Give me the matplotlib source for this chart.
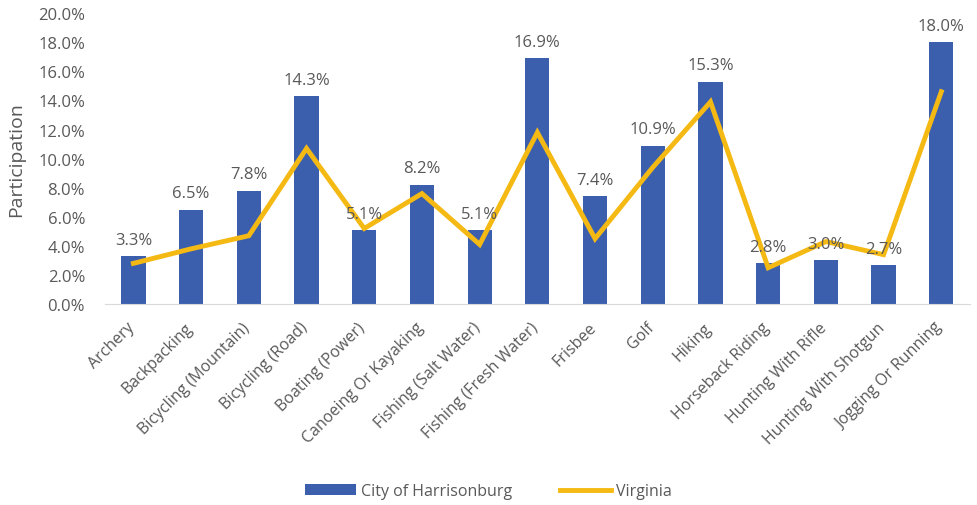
import matplotlib
matplotlib.use("Agg")
import matplotlib.pyplot as plt
import numpy as np
from matplotlib.ticker import FuncFormatter
from matplotlib.transforms import ScaledTranslation

plt.rcParams['font.family'] = ['Open Sans', 'DejaVu Sans']

categories = ["Archery", "Backpacking", "Bicycling (Mountain)", "Bicycling (Road)",
              "Boating (Power)", "Canoeing Or Kayaking", "Fishing (Salt Water)",
              "Fishing (Fresh Water)", "Frisbee", "Golf", "Hiking", "Horseback Riding",
              "Hunting With Rifle", "Hunting With Shotgun", "Jogging Or Running"]
harrisonburg = [3.3, 6.5, 7.8, 14.3, 5.1, 8.2, 5.1, 16.9, 7.4, 10.9, 15.3, 2.8, 3.0, 2.7, 18.0]
virginia = [2.8, 3.8, 4.7, 10.7, 5.2, 7.6, 4.1, 11.8, 4.5, 9.4, 13.9, 2.5, 4.3, 3.4, 14.6]
yticks = [0, 2, 4, 6, 8, 10, 12, 14, 16, 18, 20]

bar_color = "#3C5FAD"
line_color = "#F5B914"
text_color = "#595959"

fig = plt.figure(figsize=(9.77, 5.06), dpi=100)
ax = fig.add_axes([0.107, 0.397, 0.886, 0.575])

x = np.arange(len(categories))
bars = ax.bar(x, harrisonburg, width=0.42, color=bar_color, label="City of Harrisonburg", zorder=2)
line, = ax.plot(x, virginia, color=line_color, linewidth=3.5, label="Virginia", zorder=3,
                solid_joinstyle='miter')

for xi, v in zip(x, harrisonburg):
    ax.annotate(f"{v:.1f}%", (xi, v), xytext=(0, 6), textcoords="offset points",
                ha="center", va="bottom", fontsize=12, color=text_color, zorder=4)

ax.set_ylim(0, 20)
ax.set_xlim(-0.5, len(categories) - 0.5)
ax.set_yticks(yticks)
ax.yaxis.set_major_formatter(FuncFormatter(lambda v, p: f"{v:.1f}%"))
ax.set_xticks(x)
ax.set_xticklabels(categories, rotation=45, ha="right", rotation_mode="anchor")
ax.tick_params(axis="y", length=0, labelsize=12, labelcolor=text_color, pad=14)
ax.tick_params(axis="x", length=0, labelsize=11.5, labelcolor=text_color, pad=8)
offset = ScaledTranslation(-7 / 100, -4 / 100, fig.dpi_scale_trans)
for lbl in ax.get_xticklabels():
    lbl.set_transform(lbl.get_transform() + offset)
ax.set_ylabel("Participation", fontsize=14, color=text_color)
ax.yaxis.set_label_coords(-0.092, 0.5)

for s in ["top", "right", "left"]:
    ax.spines[s].set_visible(False)
ax.spines["bottom"].set_color("#D9D9D9")

fig.legend([bars, line], ["City of Harrisonburg", "Virginia"],
           loc="center", bbox_to_anchor=(0.5, 0.027), ncol=2, frameon=False,
           fontsize=11.5, labelcolor=text_color, handlelength=3.2, columnspacing=3,
           handletextpad=0.3)

fig.savefig("out.png", dpi=100)
